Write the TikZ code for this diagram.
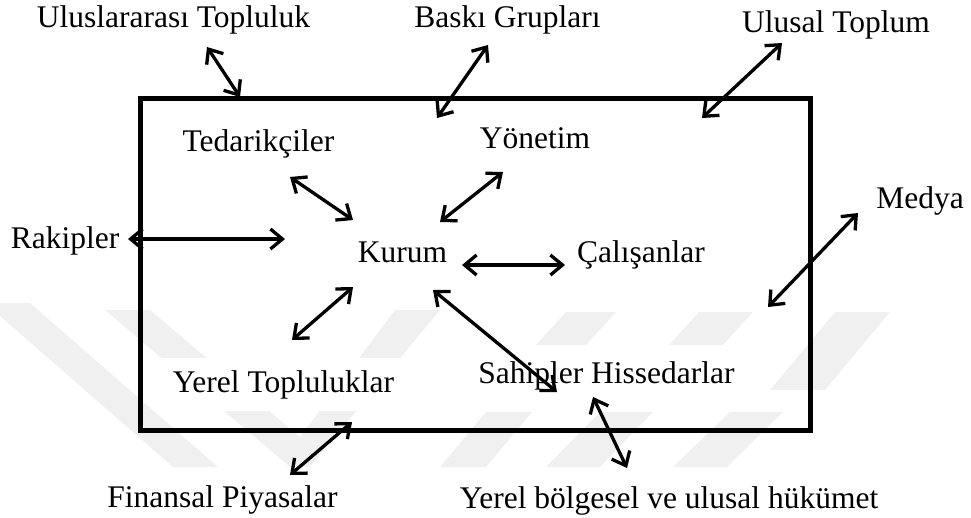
\documentclass[tikz,border=0pt]{standalone}
\usepackage{fontspec}
\setmainfont{Liberation Serif}
\usetikzlibrary{arrows.meta}
\begin{document}
\begin{tikzpicture}[x=1pt,y=-1pt,
  lbl/.style={fill=white, inner xsep=20pt, inner ysep=12pt, anchor=base,
    font=\fontsize{31.5}{36}\selectfont},
  link/.style={line width=3.3pt,
    {Straight Barb[length=12pt,width=20pt]}-{Straight Barb[length=12pt,width=20pt]}},
  wmark/.style={fill=black!6, draw=none}]
\useasboundingbox (0,0) rectangle (971,517);

% faint background emblem
\fill[wmark] (-15,303) -- (30,303) -- (218,467) -- (173,467) -- cycle;
\fill[wmark] (105,310) -- (150,310) -- (300,437) -- (395,310) -- (440,310) -- (310,467) -- (290,467) -- cycle;
\fill[wmark] (536,345) -- (586,345) -- (616,312) -- (566,312) -- cycle;
\fill[wmark] (669,345) -- (723,345) -- (753,312) -- (699,312) -- cycle;
\fill[wmark] (770,390) -- (825,390) -- (890,312) -- (835,312) -- cycle;
\fill[wmark] (440,467) -- (486,467) -- (532,412) -- (486,412) -- cycle;
\fill[wmark] (546,467) -- (600,467) -- (653,412) -- (600,412) -- cycle;
\fill[wmark] (673,467) -- (727,467) -- (783,412) -- (730,412) -- cycle;

% labels
\node[lbl] (intl) at (173.5,27) {Uluslararası Topluluk};
\node[lbl] (press) at (507.5,27) {Baskı Grupları};
\node[lbl] (natl) at (836,32) {Ulusal Toplum};
\node[lbl] (media) at (920,208) {Medya};
\node[lbl] (rivals) at (65,248) {Rakipler};
\node[lbl] (supp) at (258.5,151) {Tedarikçiler};
\node[lbl] (mgmt) at (535,148) {Yönetim};
\node[lbl] (org) at (402.5,262) {Kurum};
\node[lbl] (staff) at (641,262) {Çalışanlar};
\node[lbl] (local) at (283.5,392) {Yerel Topluluklar};
\node[lbl] (owners) at (606.5,383) {Sahipler Hissedarlar};
\node[lbl] (fin) at (222.5,507) {Finansal Piyasalar};
\node[lbl] (gov) at (669,508) {Yerel bölgesel ve ulusal hükümet};

% organisation boundary
\node[draw, line width=5pt, minimum width=670pt, minimum height=332pt, inner sep=0pt]
  (frame) at (475,264) {};

% arrow end points
\coordinate (intlA) at (207,47);   \coordinate (intlB) at (240,97);
\coordinate (pressA) at (488,45);  \coordinate (pressB) at (437,118);
\coordinate (natlA) at (782,43);   \coordinate (natlB) at (702,118);
\coordinate (mediaA) at (858,213); \coordinate (mediaB) at (768,307);
\coordinate (rivA) at (128,239);   \coordinate (rivB) at (285,239);
\coordinate (suppA) at (290,177);  \coordinate (suppB) at (353,220);
\coordinate (mgmtA) at (503,172);  \coordinate (mgmtB) at (440,222);
\coordinate (orgR) at (462,265);   \coordinate (staffL) at (565,265);
\coordinate (locA) at (353,287);   \coordinate (locB) at (292,340);
\coordinate (ownA) at (433,290);   \coordinate (ownB) at (557,392);
\coordinate (finA) at (352,422);   \coordinate (finB) at (290,475);
\coordinate (govA) at (593,397);   \coordinate (govB) at (627,468);

% two-way relations
\draw[link] (intlA) -- (intlB);
\draw[link] (pressA) -- (pressB);
\draw[link] (natlA) -- (natlB);
\draw[link] (mediaA) -- (mediaB);
\draw[link] (rivA) -- (rivB);
\draw[link] (suppA) -- (suppB);
\draw[link] (mgmtA) -- (mgmtB);
\draw[link] (orgR) -- (staffL);
\draw[link] (locA) -- (locB);
\draw[link] (ownA) -- (ownB);
\draw[link] (finA) -- (finB);
\draw[link] (govA) -- (govB);
\end{tikzpicture}
\end{document}
